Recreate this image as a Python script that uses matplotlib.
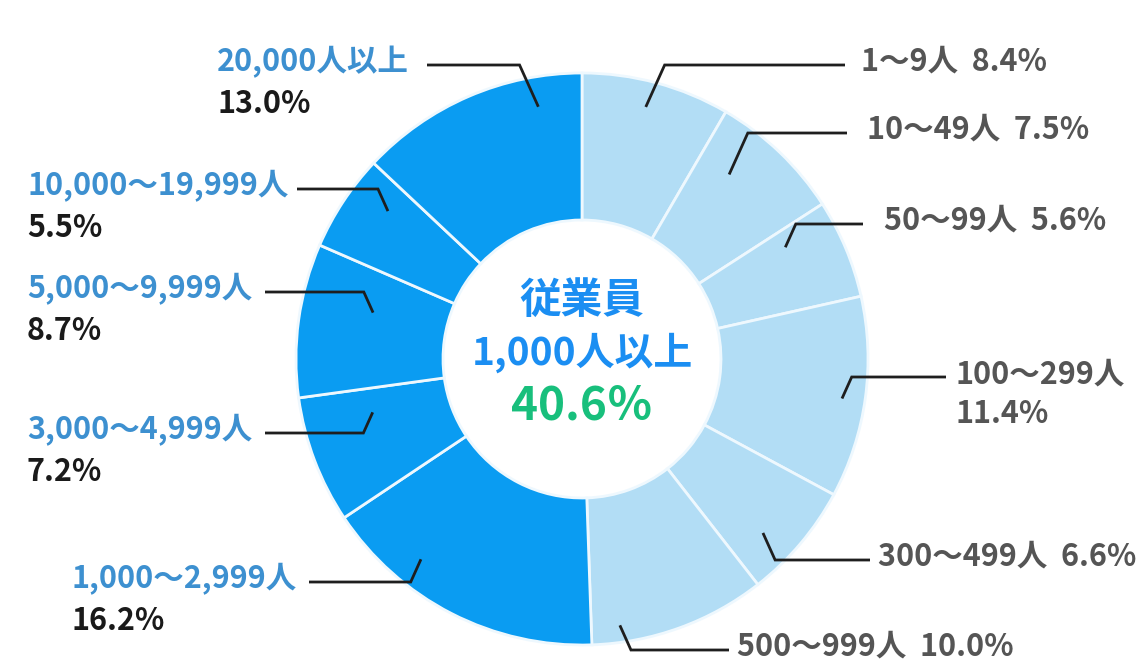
import numpy as np
import matplotlib
matplotlib.use("Agg")
import matplotlib.pyplot as plt

plt.rcParams['font.family'] = ['Noto Sans CJK JP', 'DejaVu Sans']

# データ（時計回り、12時の位置から）
categories = ["1〜9人", "10〜49人", "50〜99人", "100〜299人", "300〜499人", "500〜999人",
              "1,000〜2,999人", "3,000〜4,999人", "5,000〜9,999人", "10,000〜19,999人", "20,000人以上"]
shares = [8.4, 7.5, 5.6, 11.4, 6.6, 10.0, 16.2, 7.2, 8.7, 5.5, 13.0]
big_company = [False, False, False, False, False, False, True, True, True, True, True]
center_title = "従業員"
center_sub = "1,000人以上"
center_total = "40.6％"

LIGHT = "#b2ddf5"
DARK = "#0a9cf2"
NAME_BLUE = "#3d90d0"
GRAY = "#555555"

W, H = 1145, 668
fig = plt.figure(figsize=(W / 100, H / 100), dpi=100)
ax = fig.add_axes([0, 0, 1, 1])

cx, cy = 582, H - 359
R = 286
r_in = 139

colors = [DARK if b else LIGHT for b in big_company]
wedges, _ = ax.pie(shares, colors=colors, startangle=90, counterclock=False,
                   radius=R, center=(cx, cy),
                   wedgeprops=dict(width=R - r_in, edgecolor="#eef8fe", linewidth=2.0))
ax.set_xlim(0, W)
ax.set_ylim(0, H)
ax.set_aspect('equal')
ax.axis('off')

# 引き出し線の配置（画像上端からのピクセル）
# 線の高さ, 線の端x, アンカー半径, 扇形内の位置(0-1), テキストx
layout = [
    (65, 845, 260, 0.47, 861),
    (133, 847, 236, 0.31, 867),
    (224, 863, 232, 0.20, 884),
    (377, 946, 263, 0.52, 955),
    (560, 870, 251, 0.655, 878),
    (650, 729, 269, 0.83, 737),
    (582, 309, 257, 0.70, 72),
    (433, 265, 216, 0.75, 27),
    (292, 265, 214, 0.65, 27),
    (189, 297, 244, 0.70, 27),
    (65, 427, 256, 0.79, 217),
]

FS = 22
for w, cat, val, big, (ly, ex, ra, frac, tx) in zip(wedges, categories, shares, big_company, layout):
    ang = np.deg2rad(w.theta2 - frac * (w.theta2 - w.theta1))
    ax_, ay_ = cx + ra * np.cos(ang), cy + ra * np.sin(ang)
    y_line = H - ly
    side = 1 if ax_ > cx else -1
    elbow_x = ax_ + side * 0.45 * abs(y_line - ay_)
    ax.plot([ax_, elbow_x, ex], [ay_, y_line, y_line], color="#1e1e1e", lw=2.0,
            solid_capstyle='butt', solid_joinstyle='miter', zorder=3)
    if big:
        ax.text(tx, y_line + 3, cat, color=NAME_BLUE, fontsize=FS, fontweight='bold',
                ha='left', va='center')
        ax.text(tx, y_line - 39, f"{val:.1f}%", color="#1a1a1a", fontsize=FS,
                fontweight='bold', ha='left', va='center')
    elif cat == "100〜299人":
        ax.text(tx, y_line + 2, cat, color=GRAY, fontsize=FS, fontweight='bold',
                ha='left', va='center')
        ax.text(tx, y_line - 37, f"{val:.1f}%", color=GRAY, fontsize=FS,
                fontweight='bold', ha='left', va='center')
    else:
        ax.text(tx, y_line + 3, f"{cat}  {val:.1f}%", color=GRAY, fontsize=FS,
                fontweight='bold', ha='left', va='center')

ax.text(cx, H - 301, center_title, color="#1b8ef2", fontsize=30, fontweight='bold',
        ha='center', va='center')
ax.text(cx, H - 353, center_sub, color="#1b8ef2", fontsize=28, fontweight='bold',
        ha='center', va='center')
ax.text(cx, H - 406, center_total, color="#18bf7c", fontsize=33, fontweight='bold',
        ha='center', va='center')

fig.savefig("out.png", dpi=100, facecolor="white")
